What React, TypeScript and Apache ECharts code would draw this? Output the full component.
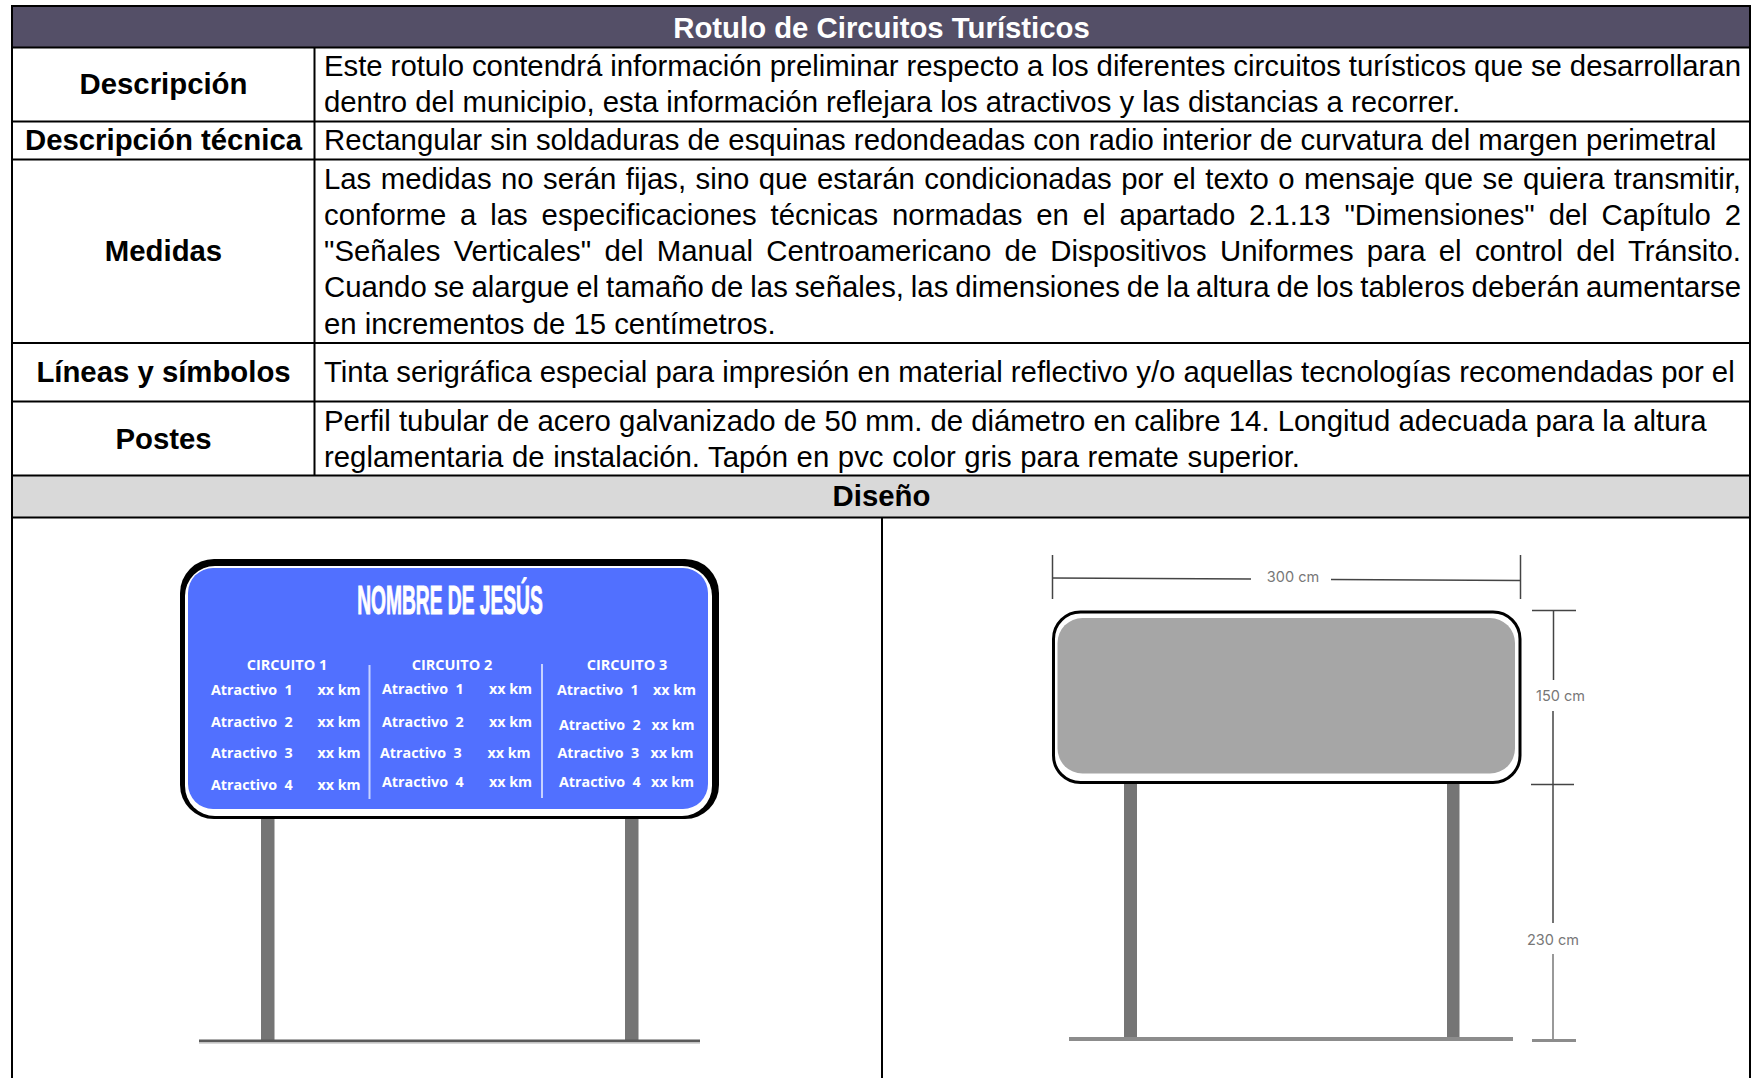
import React, { useEffect, useRef } from "react";
import * as echarts from "echarts";

const tableTitle = "Rotulo de Circuitos Turísticos";
const designTitle = "Diseño";
const rowLabels = ["Descripción", "Descripción técnica", "Medidas", "Líneas y símbolos", "Postes"];
const descriptionLines = [
  "Este rotulo contendrá información preliminar respecto a los diferentes circuitos turísticos que se desarrollaran",
  "dentro del municipio, esta información reflejara los atractivos y las distancias a recorrer.",
];
const technicalLines = [
  "Rectangular sin soldaduras de esquinas redondeadas con radio interior de curvatura del margen perimetral",
];
const measureLines = [
  "Las medidas no serán fijas, sino que estarán condicionadas por el texto o mensaje que se quiera transmitir,",
  "conforme a las especificaciones técnicas normadas en el apartado 2.1.13 \"Dimensiones\" del Capítulo 2",
  "\"Señales Verticales\" del Manual Centroamericano de Dispositivos Uniformes para el control del Tránsito.",
  "Cuando se alargue el tamaño de las señales, las dimensiones de la altura de los tableros deberán aumentarse",
  "en incrementos de 15 centímetros.",
];
const inkLines = [
  "Tinta serigráfica especial para impresión en material reflectivo y/o aquellas tecnologías recomendadas por el",
];
const postLines = [
  "Perfil tubular de acero galvanizado de 50 mm. de diámetro en calibre 14. Longitud adecuada para la altura",
  "reglamentaria de instalación. Tapón en pvc color gris para remate superior.",
];
const justifiedLines = [descriptionLines[0], measureLines[0], measureLines[1], measureLines[2], measureLines[3]];
const signTitle = "NOMBRE DE JESÚS";
const circuitNames = ["CIRCUITO 1", "CIRCUITO 2", "CIRCUITO 3"];
const attractionNames = ["Atractivo  1", "Atractivo  2", "Atractivo  3", "Atractivo  4"];
const distanceLabel = "xx km";
const dimensionLabels = ["300 cm", "150 cm", "230 cm"];

const ARIAL = '"Liberation Sans", Arial, sans-serif';
const OPEN = '"Open Sans", sans-serif';
const BODY_SIZE = 29.33;
const textLeft = 324;
const textRight = 1741;

type Item = Record<string, unknown>;
const txt = (text: string, x: number, y: number, font: string, fill: string, align = "left", scaleX = 1, extra: Item = {}): Item => ({
  type: "text", x, y, scaleX, silent: true,
  style: { text, font, fill, textAlign: align, textVerticalAlign: "middle", ...extra },
});
const rect = (x: number, y: number, width: number, height: number, fill: string, r = 0, extra: Item = {}): Item => ({
  type: "rect", silent: true, shape: { x, y, width, height, r }, style: { fill, ...extra },
});
const line = (x1: number, y1: number, x2: number, y2: number, stroke: string, lineWidth: number): Item => ({
  type: "line", silent: true, shape: { x1, y1, x2, y2 }, style: { stroke, lineWidth },
});

function buildGraphics(): Item[] {
  const g: Item[] = [];
  const body = `${BODY_SIZE}px ${ARIAL}`;
  const bold = `bold ${BODY_SIZE}px ${ARIAL}`;

  // Header fills
  g.push(rect(12, 6, 1738, 41, "#544f67"));
  g.push(rect(12, 475, 1738, 42, "#d9d9d9"));

  // Table rules
  [6, 47.5, 121.5, 159.5, 343, 401.5, 475.5, 517.5].forEach((y) => g.push(line(11, y, 1751, y, "#000", 2)));
  g.push(line(12, 5, 12, 1078, "#000", 2));
  g.push(line(1750, 5, 1750, 1078, "#000", 2));
  g.push(line(314.5, 47, 314.5, 476, "#000", 2));
  g.push(line(882, 517, 882, 1078, "#000", 2));

  g.push(txt(tableTitle, 881.5, 27.5, bold, "#ffffff", "center"));
  g.push(txt(designTitle, 881.5, 495.5, bold, "#000000", "center"));

  const labelY = [83.5, 139.5, 250.5, 371.5, 438.5];
  rowLabels.forEach((l, i) => g.push(txt(l, 163.5, labelY[i], bold, "#000000", "center")));

  const addLines = (lines: string[], ys: number[]) =>
    lines.forEach((l, i) => g.push(txt(l, textLeft, ys[i], body, "#000000")));
  addLines(descriptionLines, [65.5, 101.5]);
  addLines(technicalLines, [139.5]);
  addLines(measureLines, [178, 214.5, 250.5, 286.5, 323.5]);
  addLines(inkLines, [371.5]);
  addLines(postLines, [420.5, 456.5]);

  // Left sign
  g.push(rect(261, 815, 13.5, 226, "#757575"));
  g.push(rect(625, 815, 13.5, 226, "#757575"));
  g.push(rect(199, 1039.5, 501, 3, "#5a5a5a"));
  g.push(rect(199, 1042.5, 501, 1.5, "#d8d8d8"));
  g.push(rect(180, 559, 539, 260, "#000000", 34));
  g.push(rect(185, 566, 527, 250, "#ffffff", 30));
  g.push(rect(188, 568, 520, 241, "#5170ff", 25));
  g.push(txt(signTitle, 450, 601, `bold 40px ${ARIAL}`, "#ffffff", "center", 0.48, { stroke: "#ffffff", lineWidth: 1 }));

  const circuitX = [287, 452, 627];
  circuitNames.forEach((c, i) => g.push(txt(c, circuitX[i], 664, `bold 14.5px ${OPEN}`, "#ffffff", "center")));
  const labelXs = [[211, 211, 211, 211], [382, 382, 380, 382], [557, 559, 557.5, 559]];
  const kmXs = [[317.5, 317.5, 317.5, 317.5], [489, 489, 487.5, 489], [653, 651.5, 650.5, 651]];
  const rowYs = [[689.5, 721.5, 752.5, 784.5], [688.5, 721.5, 752.5, 781.5], [689.5, 724.5, 752.5, 781.5]];
  labelXs.forEach((xs, c) =>
    attractionNames.forEach((a, r) => {
      g.push(txt(a, xs[r], rowYs[c][r], `bold 14.3px ${OPEN}`, "#ffffff"));
      g.push(txt(distanceLabel, kmXs[c][r], rowYs[c][r], `bold 14.3px ${OPEN}`, "#ffffff"));
    }),
  );
  g.push(line(369.5, 665, 369.5, 799, "#c7d2ff", 2));
  g.push(line(542, 664, 542, 798, "#c7d2ff", 2));

  // Right sign
  g.push(rect(1124, 782, 13, 257, "#757575"));
  g.push(rect(1447, 782, 12.5, 257, "#757575"));
  g.push(rect(1069, 1037, 444, 4, "#8c8c8c"));
  g.push(rect(1053.5, 612, 466.5, 170.5, "#ffffff", 27, { stroke: "#000000", lineWidth: 3 }));
  g.push(rect(1057.5, 618, 457.5, 155.5, "#a6a6a6", 25));

  // Dimensions
  const dim = "#444444";
  g.push(line(1052.5, 555, 1052.5, 599, dim, 1.5));
  g.push(line(1520.5, 555, 1520.5, 599, dim, 1.5));
  g.push(line(1052.5, 578, 1251, 579, dim, 1.5));
  g.push(line(1331, 579.5, 1520.5, 580.5, dim, 1.5));
  g.push(line(1532, 610.5, 1576, 610.5, dim, 1.5));
  g.push(line(1553.5, 610.5, 1553.5, 680, dim, 1.5));
  g.push(line(1553, 711, 1553, 923, dim, 1.5));
  g.push(line(1531, 784.5, 1574, 784.5, dim, 1.5));
  g.push(line(1553, 954, 1553, 1040, "#777777", 1.5));
  g.push(rect(1532, 1039, 44, 3, "#8c8c8c"));
  const dimFont = `14.5px Inter, ${OPEN}`;
  g.push(txt(dimensionLabels[0], 1293, 576, dimFont, "#777777", "center"));
  g.push(txt(dimensionLabels[1], 1560.5, 695, dimFont, "#777777", "center"));
  g.push(txt(dimensionLabels[2], 1553, 939, dimFont, "#777777", "center"));
  return g;
}

export default function App() {
  const ref = useRef<HTMLDivElement>(null);
  useEffect(() => {
    if (!ref.current) return;
    const chart = echarts.init(ref.current, undefined, { renderer: "svg" });
    chart.setOption({ animation: false, backgroundColor: "#ffffff", graphic: { elements: buildGraphics() } });
    // Justify full-width lines as in the reference
    ref.current.querySelectorAll("text").forEach((el) => {
      const t = (el.textContent || "").trim();
      const isLast = t === postLines[1];
      if (!justifiedLines.includes(t) && !isLast) return;
      const spaces = t.split(" ").length - 1;
      const target = isLast ? 976 : textRight - textLeft;
      const extra = (target - (el as SVGTextElement).getComputedTextLength()) / spaces;
      el.setAttribute("word-spacing", String(extra));
    });
    return () => chart.dispose();
  }, []);
  return <div ref={ref} style={{ position: "fixed", left: 0, top: 0, width: 1751, height: 1078 }} />;
}
